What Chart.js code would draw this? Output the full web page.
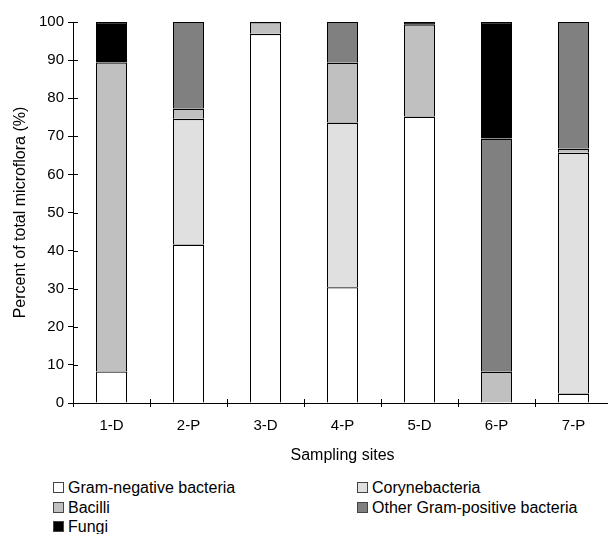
<!DOCTYPE html>
<html>
<head>
<meta charset="utf-8">
<script src="https://cdn.jsdelivr.net/npm/chart.js@4"></script>
<style>
  html, body { margin: 0; padding: 0; background: #fff; overflow: hidden; }
  body { width: 608px; height: 534px; position: relative; font-family: "Liberation Sans", Arial, sans-serif; }
  #wrap { position: absolute; left: 0; top: 0; width: 612px; height: 475px; }
  .leg { position: absolute; font-size: 16px; line-height: 20px; color: #000; white-space: nowrap; }
  .leg .box { display: inline-block; width: 9px; height: 9px; border: 1px solid #444; margin-right: 4px; vertical-align: 0px; }
</style>
</head>
<body>
<div id="wrap"><canvas id="chart"></canvas></div>
<div id="legend"></div>
<script>
// --- Datos ---
const sites = ["1-D", "2-P", "3-D", "4-P", "5-D", "6-P", "7-P"];
const gramNeg = [8.3, 41.6, 96.9, 30.4, 75.2, null, 2.5];
const coryne = [null, 33.0, null, 43.2, null, null, 63.2];
const bacilli = [81.1, 2.7, 3.1, 15.7, 24.2, 8.2, 1.1];
const otherGp = [null, 22.7, null, 10.7, null, 61.2, 33.2];
const fungi = [10.6, null, null, null, 0.6, 30.6, null];
const yTicks = [0, 10, 20, 30, 40, 50, 60, 70, 80, 90, 100];

const seriesNames = ["Gram-negative bacteria", "Corynebacteria", "Bacilli", "Other Gram-positive bacteria", "Fungi"];
const seriesColors = ["#ffffff", "#e0e0e0", "#c0c0c0", "#808080", "#000000"];
const seriesData = [gramNeg, coryne, bacilli, otherGp, fungi];

// ticks que cruzan el eje (por dentro)
const innerTicks = {
  id: "innerTicks",
  afterDraw(chart) {
    const { ctx, scales: { x, y } } = chart;
    ctx.save();
    ctx.strokeStyle = "#000";
    ctx.lineWidth = 1;
    ctx.beginPath();
    y.ticks.forEach((t, i) => {
      const py = Math.round(y.getPixelForTick(i)) + 0.5;
      ctx.moveTo(x.left, py);
      ctx.lineTo(x.left + 5, py);
    });
    const step = x.width / sites.length;
    for (let i = 1; i < sites.length; i++) {
      const px = Math.round(x.left + i * step) + 0.5;
      ctx.moveTo(px, y.bottom);
      ctx.lineTo(px, y.bottom - 4);
    }
    ctx.stroke();
    ctx.restore();
  },
};

const font = "'Liberation Sans', Arial, sans-serif";

new Chart(document.getElementById("chart"), {
  type: "bar",
  data: {
    labels: sites,
    datasets: seriesNames.map((name, i) => ({
      label: name,
      data: seriesData[i],
      backgroundColor: seriesColors[i],
      borderColor: "#000",
      borderWidth: { top: 1.4, left: 1, right: 1, bottom: 0 },
      borderSkipped: "start",
      barPercentage: 31 / 77,
      categoryPercentage: 1,
    })),
  },
  options: {
    responsive: true,
    maintainAspectRatio: false,
    animation: false,
    layout: { padding: { top: 22, left: 0, right: 0, bottom: 0 } },
    plugins: { legend: { display: false }, tooltip: { enabled: false } },
    scales: {
      x: {
        stacked: true,
        afterFit: (s) => { s.height = 72; },
        border: { color: "#000", width: 1 },
        grid: { offset: true, drawOnChartArea: false, color: "#000", tickLength: 4 },
        ticks: { color: "#000", padding: 10, font: { family: font, size: 15 } },
        title: { display: true, text: "Sampling sites", color: "#000", font: { family: font, size: 16 }, padding: { top: 0, bottom: 10 } },
      },
      y: {
        stacked: true,
        min: 0,
        max: 100,
        afterFit: (s) => { s.width = 73; },
        afterBuildTicks: (s) => { s.ticks = yTicks.map((v) => ({ value: v })); },
        border: { color: "#000", width: 1 },
        grid: { drawOnChartArea: false, color: "#000", tickLength: 5 },
        ticks: { color: "#000", padding: 4, font: { family: font, size: 15 } },
        title: { display: true, text: "Percent of total microflora (%)", color: "#000", font: { family: font, size: 16 }, padding: { top: 11, bottom: 0 } },
      },
    },
  },
  plugins: [innerTicks],
});

// leyenda HTML en dos columnas
const legendPos = [
  [53, 478], [357, 478],
  [53, 497.5], [357, 497.5],
  [53, 517],
];
document.getElementById("legend").innerHTML = seriesNames
  .map((name, i) => `
    <div class="leg" style="left:${legendPos[i][0]}px; top:${legendPos[i][1]}px">
      <span class="box" style="background:${seriesColors[i]}"></span>${name}
    </div>`)
  .join("");
</script>
</body>
</html>
